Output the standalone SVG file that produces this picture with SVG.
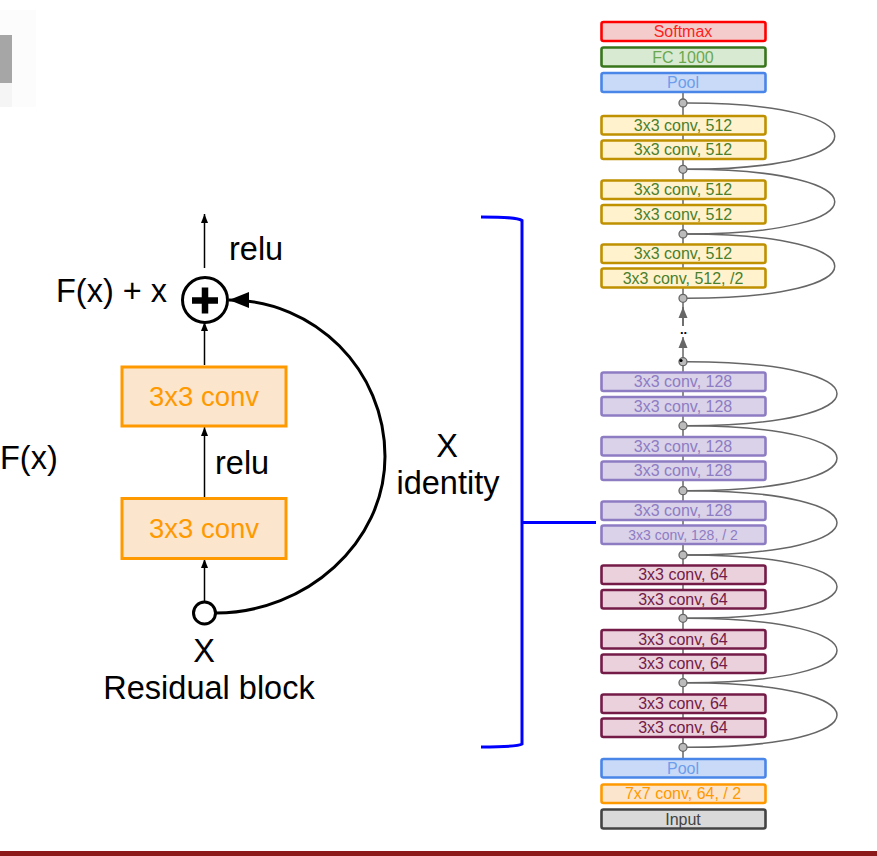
<svg xmlns="http://www.w3.org/2000/svg" width="877" height="856" viewBox="0 0 877 856">
<style>
.lbl{font-family:"Liberation Sans",Arial,sans-serif;font-size:32.5px;fill:#000}
.blk rect{stroke-width:3}
.blk text{font-family:"Liberation Sans",Arial,sans-serif;font-size:27.5px;text-anchor:middle;fill:#ff9900}
.n rect{stroke-width:2.6}
.n text{font-family:"Liberation Sans",Arial,sans-serif;font-size:16px;text-anchor:middle}
.or rect{fill:#fce5cd;stroke:#ff9900}
.sm rect{fill:#f4cccc;stroke:#ff0000} .sm text{fill:#ff2020}
.fc rect{fill:#d9ead3;stroke:#38761d} .fc text{fill:#6aa84f}
.pl rect{fill:#c9daf8;stroke:#4a86e8} .pl text{fill:#6d9eeb}
.c5 rect{fill:#fff2cc;stroke:#bf9000} .c5 text{fill:#4a7f2c}
.c1 rect{fill:#d9d2e9;stroke:#8e7cc3} .c1 text{fill:#8e7cc3}
.c6 rect{fill:#ead1dc;stroke:#741b47} .c6 text{fill:#741b47}
.c7 rect{fill:#fce5cd;stroke:#ff9900} .c7 text{fill:#ff9900}
.in rect{fill:#d9d9d9;stroke:#434343} .in text{fill:#434343}
.skip{fill:none;stroke:#666;stroke-width:1.5}
.dot{fill:#bbb;stroke:#666;stroke-width:1.3}
</style>
<defs>
<marker id="ah" markerWidth="10" markerHeight="10" refX="9" refY="5" orient="auto" markerUnits="userSpaceOnUse">
<path d="M0,1.5 L9,5 L0,8.5 Z" fill="#000"/>
</marker>
<marker id="ahb" markerWidth="22" markerHeight="18" refX="20" refY="9" orient="auto" markerUnits="userSpaceOnUse">
<path d="M0,1 L20,9 L0,17 Z" fill="#000"/>
</marker>
<marker id="ahg" markerWidth="12" markerHeight="10" refX="11" refY="5" orient="auto" markerUnits="userSpaceOnUse">
<path d="M0,0.5 L11,5 L0,9.5 Z" fill="#666"/>
</marker>
</defs>
<rect width="877" height="856" fill="#fff"/>
<!-- top-left fragment -->
<rect x="0" y="10" width="36" height="97" fill="#fcfcfc"/>
<rect x="0" y="35" width="12" height="48" fill="#a6a6a6"/>
<rect x="0" y="83" width="12" height="24" fill="#f5f5f5"/>
<!-- bottom bar -->
<rect x="0" y="851" width="877" height="5" fill="#8c1a1a"/>

<!-- Left residual block connectors -->
<g id="connectors-left" fill="none" stroke="#000">
<line x1="204.5" y1="601" x2="204.5" y2="559" stroke-width="1.5" marker-end="url(#ah)"/>
<line x1="204.5" y1="497" x2="204.5" y2="427" stroke-width="1.5" marker-end="url(#ah)"/>
<line x1="204.5" y1="365" x2="204.5" y2="322" stroke-width="1.5" marker-end="url(#ah)"/>
<line x1="204.5" y1="268" x2="204.5" y2="214" stroke-width="1.5" marker-end="url(#ah)"/>
<path d="M216,613 C306,613 385,543 385,456.5 C385,370 315,300 229,300" stroke-width="3" marker-end="url(#ahb)"/>
</g>
<g id="conv-top" class="blk or"><rect x="122" y="367" width="164" height="59"/><text x="204" y="406">3x3 conv</text></g>
<g id="conv-bottom" class="blk or"><rect x="122" y="498.5" width="164" height="60"/><text x="204" y="538">3x3 conv</text></g>
<g id="add">
<circle cx="205" cy="300" r="22.5" fill="#fff" stroke="#000" stroke-width="3"/>
<path d="M192,300.5 H218 M205,287.5 V313.5" stroke="#000" stroke-width="6.5"/>
</g>
<g id="input-x"><circle cx="204.5" cy="613" r="11" fill="#fff" stroke="#000" stroke-width="3"/></g>
<g id="labels-left">
<text class="lbl" x="229" y="260">relu</text>
<text class="lbl" x="167" y="302" text-anchor="end">F(x) + x</text>
<text class="lbl" x="215" y="474">relu</text>
<text class="lbl" x="0" y="469">F(x)</text>
<text class="lbl" x="204" y="662" text-anchor="middle">X</text>
<text class="lbl" x="209" y="699" text-anchor="middle">Residual block</text>
<text class="lbl" x="447" y="457" text-anchor="middle">X</text>
<text class="lbl" x="448" y="494" text-anchor="middle">identity</text>
</g>
<g id="bracket" fill="none" stroke="#0000ff" stroke-width="3">
<path d="M481,217 C505,217 518,217.5 522,220.5 L522,744 C518,746.5 505,747 481,747"/>
<line x1="522" y1="522.5" x2="596" y2="522.5"/>
</g>

<!-- Right network connectors -->
<g id="connectors-right">
<line x1="683" y1="92" x2="683" y2="298" stroke="#666" stroke-width="1.5"/>
<line x1="683" y1="361" x2="683" y2="759" stroke="#666" stroke-width="1.5"/>
<line x1="683" y1="302" x2="683" y2="326" stroke="#666" stroke-width="1.5"/>
<line x1="683" y1="326" x2="683" y2="307" stroke="#666" stroke-width="1.5" marker-end="url(#ahg)"/>
<line x1="683" y1="358" x2="683" y2="337" stroke="#666" stroke-width="1.5" marker-end="url(#ahg)"/>
<path class="skip" d="M687,103 C884,103 884,169.3 687,169.3"/>
<path class="skip" d="M687,169.3 C884,169.3 884,234 687,234"/>
<path class="skip" d="M687,234 C884,234 884,298.3 687,298.3"/>
<path class="skip" d="M687,361.7 C887,361.7 887,425.7 687,425.7"/>
<path class="skip" d="M687,425.7 C887,425.7 887,490.7 687,490.7"/>
<path class="skip" d="M687,490.7 C887,490.7 887,555 687,555"/>
<path class="skip" d="M687,555 C887,555 887,618.3 687,618.3"/>
<path class="skip" d="M687,618.3 C887,618.3 887,682.7 687,682.7"/>
<path class="skip" d="M687,682.7 C887,682.7 887,747.3 687,747.3"/>
<text x="683.5" y="334" font-family="Liberation Sans,Arial,sans-serif" font-size="13" font-weight="bold" text-anchor="middle" fill="#000">..</text>
</g>

<g id="softmax" class="n sm"><rect x="601.5" y="22" width="164" height="19" rx="2"/><text x="683" y="37">Softmax</text></g>
<g id="fc1000" class="n fc"><rect x="601.5" y="47.5" width="164" height="19" rx="2"/><text x="683" y="62.5">FC 1000</text></g>
<g id="pool-top" class="n pl"><rect x="601.5" y="73" width="164" height="19" rx="2"/><text x="683" y="88">Pool</text></g>

<g id="c512-1" class="n c5"><rect x="601.5" y="116" width="164" height="18.5" rx="2"/><text x="683" y="130.9">3x3 conv, 512</text></g>
<g id="c512-2" class="n c5"><rect x="601.5" y="140.5" width="164" height="18.5" rx="2"/><text x="683" y="155.4">3x3 conv, 512</text></g>
<g id="c512-3" class="n c5"><rect x="601.5" y="180.5" width="164" height="18.5" rx="2"/><text x="683" y="195.4">3x3 conv, 512</text></g>
<g id="c512-4" class="n c5"><rect x="601.5" y="205" width="164" height="18.5" rx="2"/><text x="683" y="219.9">3x3 conv, 512</text></g>
<g id="c512-5" class="n c5"><rect x="601.5" y="244.5" width="164" height="18.5" rx="2"/><text x="683" y="259.4">3x3 conv, 512</text></g>
<g id="c512-6" class="n c5"><rect x="601.5" y="268.5" width="164" height="19" rx="2"/><text x="683" y="283.7">3x3 conv, 512, /2</text></g>

<g id="c128-1" class="n c1"><rect x="601.5" y="372.5" width="164" height="18.5" rx="2"/><text x="683" y="387.4">3x3 conv, 128</text></g>
<g id="c128-2" class="n c1"><rect x="601.5" y="397" width="164" height="18.5" rx="2"/><text x="683" y="411.9">3x3 conv, 128</text></g>
<g id="c128-3" class="n c1"><rect x="601.5" y="437" width="164" height="18.5" rx="2"/><text x="683" y="451.9">3x3 conv, 128</text></g>
<g id="c128-4" class="n c1"><rect x="601.5" y="461.5" width="164" height="18.5" rx="2"/><text x="683" y="476.4">3x3 conv, 128</text></g>
<g id="c128-5" class="n c1"><rect x="601.5" y="501.5" width="164" height="18.5" rx="2"/><text x="683" y="516.4">3x3 conv, 128</text></g>
<g id="c128-6" class="n c1"><rect x="601.5" y="525.5" width="164" height="18.5" rx="2"/><text x="683" y="539.7" style="font-size:14px">3x3 conv, 128, / 2</text></g>

<g id="c64-1" class="n c6"><rect x="601.5" y="565.5" width="164" height="18.5" rx="2"/><text x="683" y="580.4">3x3 conv, 64</text></g>
<g id="c64-2" class="n c6"><rect x="601.5" y="590" width="164" height="18.5" rx="2"/><text x="683" y="604.9">3x3 conv, 64</text></g>
<g id="c64-3" class="n c6"><rect x="601.5" y="630" width="164" height="18.5" rx="2"/><text x="683" y="644.9">3x3 conv, 64</text></g>
<g id="c64-4" class="n c6"><rect x="601.5" y="654.5" width="164" height="18.5" rx="2"/><text x="683" y="669.4">3x3 conv, 64</text></g>
<g id="c64-5" class="n c6"><rect x="601.5" y="694.5" width="164" height="18.5" rx="2"/><text x="683" y="709.4">3x3 conv, 64</text></g>
<g id="c64-6" class="n c6"><rect x="601.5" y="718.5" width="164" height="18.5" rx="2"/><text x="683" y="733.4">3x3 conv, 64</text></g>

<g id="pool-bottom" class="n pl"><rect x="601.5" y="759" width="164" height="18.5" rx="2"/><text x="683" y="773.9">Pool</text></g>
<g id="conv7" class="n c7"><rect x="601.5" y="784.5" width="164" height="18.5" rx="2"/><text x="683" y="799.4">7x7 conv, 64, / 2</text></g>
<g id="input" class="n in"><rect x="601.5" y="809.5" width="164" height="19" rx="2"/><text x="683" y="824.7">Input</text></g>

<g id="junctions">
<circle class="dot" cx="683" cy="103" r="4"/>
<circle class="dot" cx="683" cy="169.3" r="4"/>
<circle class="dot" cx="683" cy="234" r="4"/>
<circle class="dot" cx="683" cy="298.3" r="4"/>
<circle class="dot" cx="683" cy="361.7" r="4"/>
<circle cx="681" cy="360.5" r="1.6" fill="#000"/>
<circle class="dot" cx="683" cy="425.7" r="4"/>
<circle class="dot" cx="683" cy="490.7" r="4"/>
<circle class="dot" cx="683" cy="555" r="4"/>
<circle class="dot" cx="683" cy="618.3" r="4"/>
<circle class="dot" cx="683" cy="682.7" r="4"/>
<circle class="dot" cx="683" cy="747.3" r="4"/>
</g>
</svg>
